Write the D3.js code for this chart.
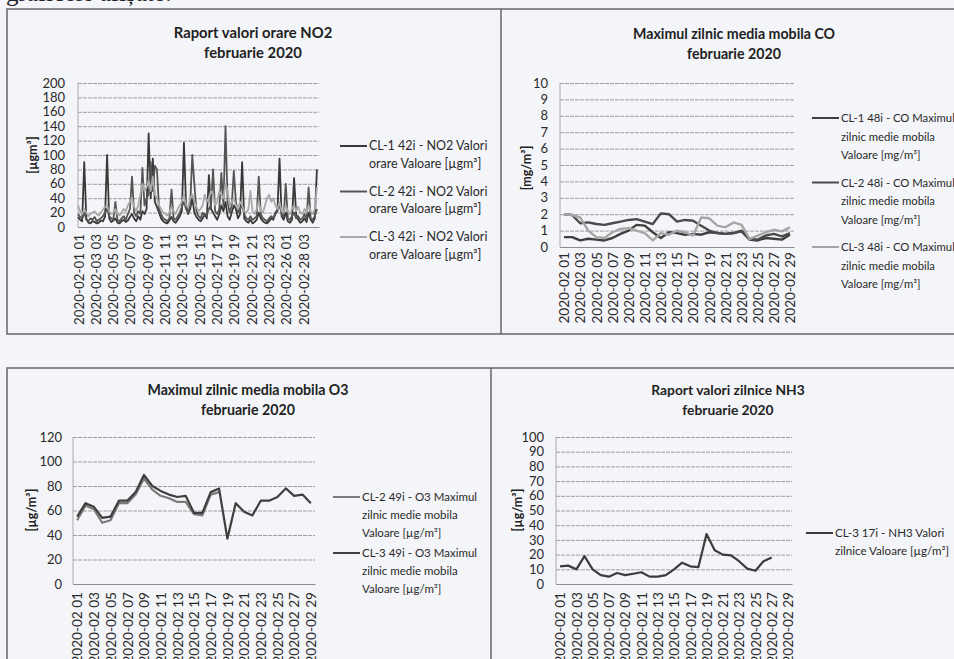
<!DOCTYPE html>
<html>
<head>
<meta charset="utf-8">
<script src="https://cdn.jsdelivr.net/npm/d3@7"></script>
<style>
  body { margin: 0; background: #f4f5f9; }
  svg { display: block; font-family: Lato, "Open Sans", sans-serif; }
</style>
</head>
<body>
<div id="chart"></div>
<script>
/* Rapoarte calitatea aerului - februarie 2020 */

const width = 954,
    height = 659;

// NO2 hourly chart: one value every 6 hours
const no2Ticks = ["2020-02-01 01", "2020-02-03 03", "2020-02-05 05", "2020-02-07 07", "2020-02-09 09",
    "2020-02-11 11", "2020-02-13 13", "2020-02-15 15", "2020-02-17 17", "2020-02-19 19",
    "2020-02-21 21", "2020-02-23 23", "2020-02-26 01", "2020-02-28 03"];
const no2TickHours = [1, 51, 101, 151, 201, 251, 301, 351, 401, 451, 501, 551, 601, 651];
const no2Cl1 = [14, 10, 8, 90, 12, 6, 5, 8, 7, 5, 6, 9, 8, 14, 100, 12, 7, 9, 12, 6,
    5, 8, 10, 7, 9, 14, 18, 12, 8, 15, 10, 22, 18, 25, 130, 40, 95, 35, 28, 20,
    12, 8, 6, 5, 9, 14, 8, 6, 10, 15, 22, 117, 30, 18, 25, 40, 20, 14, 10, 8,
    12, 18, 12, 72, 25, 20, 15, 10, 18, 30, 22, 35, 15, 10, 20, 30, 25, 12, 18, 90,
    12, 8, 6, 10, 5, 7, 10, 20, 12, 8, 6, 5, 8, 12, 10, 18, 22, 95, 15, 10,
    20, 8, 6, 10, 68, 18, 10, 6, 8, 12, 7, 20, 10, 6, 12, 80];
const no2Cl2 = [18, 14, 12, 20, 10, 8, 12, 10, 14, 8, 10, 12, 15, 20, 25, 15, 12, 10, 35, 10,
    8, 12, 15, 10, 18, 25, 70, 20, 15, 22, 18, 82, 30, 40, 45, 90, 50, 85, 80, 25,
    18, 12, 10, 8, 12, 52, 12, 10, 15, 20, 28, 35, 25, 20, 30, 100, 60, 22, 15, 12,
    20, 15, 18, 25, 30, 80, 22, 18, 25, 75, 30, 140, 35, 20, 30, 78, 35, 20, 25, 30,
    18, 12, 10, 15, 10, 12, 15, 70, 18, 12, 10, 8, 12, 15, 12, 20, 25, 30, 18, 15,
    60, 12, 10, 15, 20, 12, 15, 10, 12, 18, 10, 55, 12, 10, 15, 25];
const no2Cl3 = [30, 22, 18, 25, 20, 15, 18, 20, 22, 18, 16, 20, 24, 28, 30, 22, 18, 20, 25, 18,
    16, 20, 25, 22, 30, 35, 40, 28, 22, 30, 45, 60, 50, 55, 65, 50, 70, 45, 40, 30,
    25, 20, 18, 16, 20, 28, 22, 18, 25, 30, 35, 45, 30, 28, 40, 45, 35, 28, 22, 25,
    30, 45, 35, 40, 50, 45, 30, 35, 50, 45, 40, 60, 50, 30, 35, 40, 30, 25, 35, 30,
    22, 20, 25, 50, 22, 18, 25, 35, 22, 20, 30, 40, 45, 35, 40, 30, 25, 35, 22, 20,
    30, 22, 18, 25, 30, 22, 28, 20, 18, 25, 20, 30, 22, 18, 25, 55];

// daily charts: 29 days, a label every second day
const days = ["01", "02", "03", "04", "05", "06", "07", "08", "09", "10", "11", "12", "13", "14", "15",
    "16", "17", "18", "19", "20", "21", "22", "23", "24", "25", "26", "27", "28", "29"];
const dayTicks = ["01", "03", "05", "07", "09", "11", "13", "15", "17", "19", "21", "23", "25", "27", "29"];

const coCl1 = [0.6, 0.6, 0.4, 0.5, 0.45, 0.4, 0.55, 0.8, 1.0, 1.35, 1.3, 0.9, 0.55, 0.9, 0.85,
    0.75, 0.8, 0.75, 0.9, 0.85, 0.8, 0.85, 0.95, 0.45, 0.4, 0.55, 0.5, 0.45, 0.75];
const coCl2 = [2.0, 1.95, 1.45, 1.5, 1.4, 1.35, 1.45, 1.55, 1.65, 1.7, 1.55, 1.4, 2.05, 2.0, 1.55,
    1.65, 1.6, 1.3, 1.0, 0.85, 0.8, 0.85, 1.0, 0.5, 0.45, 0.7, 0.8, 0.65, 0.85];
const coCl3 = [2.0, 1.95, 1.8, 1.0, 0.6, 0.55, 0.9, 1.1, 1.15, 1.0, 0.85, 0.4, 0.85, 0.75, 1.0,
    0.9, 0.7, 1.8, 1.75, 1.3, 1.2, 1.5, 1.35, 0.5, 0.7, 0.9, 1.05, 0.95, 1.2];

const o3Cl2 = [52, 64, 61, 50, 52, 66, 66, 73, 86, 77, 72, 70, 67, 67, 57, 56, 73, 75,
    null, null, null, null, null, null, null, null, null, null, null];
const o3Cl3 = [55, 66, 63, 54, 55, 68, 68, 75, 89, 80, 76, 73, 71, 72, 58, 58, 75, 78,
    37, 66, 59, 56, 68, 68, 71, 78, 72, 73, 66];

const nh3Cl3 = [12, 12.5, 10, 19, 10, 6, 5, 7.5, 6, 7, 8, 5, 5, 6, 10, 14.5, 12, 11.5,
    34, 23, 20, 19.5, 15.5, 10.5, 9, 15.5, 18, null, null];

const svg = d3.select("#chart")
    .append("svg")
    .attr("width", width)
    .attr("height", height);

svg.append("rect")
    .attr("width", width)
    .attr("height", height)
    .attr("fill", "#f4f5f9");

// heading of the document, cut at the top of the scan
svg.append("text")
    .attr("x", 6)
    .attr("y", 1)
    .attr("font-family", "Liberation Serif, serif")
    .attr("font-size", 25)
    .attr("fill", "#222")
    .text("graficele afișate:");

// panel frames
const frame = svg.append("g")
    .attr("fill", "none")
    .attr("stroke", "#666")
    .attr("stroke-width", 1.5);
frame.append("path").attr("d", "M960,9H7V334H960");
frame.append("path").attr("d", "M501,9V334");
frame.append("path").attr("d", "M960,368H7V670");
frame.append("path").attr("d", "M491,368V670");

function drawPanel(p) {
    const g = svg.append("g");

    let y = d3.scaleLinear()
        .domain([0, p.yMax])
        .range([p.bottom, p.top]);

    // gridlines + y tick labels
    g.append("g")
        .attr("transform", `translate(${p.left},0)`)
        .call(d3.axisLeft(y).tickValues(d3.range(0, p.yMax + p.yStep / 2, p.yStep))
            .tickSize(-(p.right - p.left)).tickPadding(p.left - p.tickX))
        .call(a => a.select(".domain").remove())
        .call(a => a.selectAll("line").attr("stroke", "#9f9f9f").attr("stroke-dasharray", "4,1"))
        .call(a => a.selectAll("text")
            .attr("font-size", 13)
            .attr("font-family", "Lato, sans-serif")
            .attr("fill", "#2a2a2a"));

    g.append("line")          // vertical axis line
        .attr("x1", p.left).attr("x2", p.left)
        .attr("y1", p.top).attr("y2", p.bottom)
        .attr("stroke", "#aaa");

    // x axis with rotated labels
    g.append("g")
        .attr("transform", `translate(0,${p.bottom})`)
        .call(d3.axisBottom(p.x).tickValues(p.tickValues).tickSize(0).tickSizeOuter(0)
            .tickFormat((d, i) => p.tickLabels[i]))
        .call(a => a.select(".domain").attr("stroke", "#8c8c8c"))
        .call(a => a.selectAll("text")
            .attr("transform", "rotate(-90)")
            .attr("text-anchor", "end")
            .attr("x", -(p.xLabelTop - p.bottom))
            .attr("y", 0)
            .attr("dy", "0.35em")
            .attr("font-size", p.xFont)
            .attr("font-family", "Lato, sans-serif")
            .attr("fill", "#2a2a2a"));

    // series
    for (let s of p.series) {
        let line = d3.line()
            .defined(d => d != null)
            .x((d, i) => p.x(p.xs[i]))
            .y(d => y(d));
        g.append("path")
            .datum(s.values)
            .attr("d", line)
            .attr("fill", "none")
            .attr("stroke", s.color)
            .attr("stroke-width", p.lineWidth)
            .attr("stroke-linejoin", "round");
    }

    // title
    g.append("text")
        .attr("x", p.titleX)
        .attr("y", p.titleY)
        .attr("text-anchor", "middle")
        .attr("font-weight", "bold")
        .attr("font-size", p.titleFont)
        .attr("fill", "#222")
        .selectAll("tspan")
        .data(p.title)
        .join("tspan")
        .attr("x", p.titleX)
        .attr("dy", (d, i) => i ? 20 : 0)
        .text(d => d);

    // y axis title
    g.append("text")
        .attr("transform", `translate(${p.yLabelX},${p.yLabelY}) rotate(-90)`)
        .attr("text-anchor", "middle")
        .attr("dy", "0.35em")
        .attr("font-weight", "bold")
        .attr("font-size", 12.5)
        .attr("fill", "#222")
        .text(p.yLabel);

    // legend
    p.series.forEach((s, k) => {
        let ly = p.legendY + k * p.legendGap;
        g.append("line")
            .attr("x1", p.legendX).attr("x2", p.legendX + 27)
            .attr("y1", ly).attr("y2", ly)
            .attr("stroke", s.color)
            .attr("stroke-width", 2);
        g.append("text")
            .attr("x", p.legendX + 29)
            .attr("y", ly)
            .attr("font-size", p.legendFont)
            .attr("fill", "#2a2a2a")
            .selectAll("tspan")
            .data(s.label)
            .join("tspan")
            .attr("x", p.legendX + 29)
            .attr("dy", (d, i) => i ? p.legendLine : 4)
            .text(d => d);
    });
}

// --- NO2 hourly ---
let xHours = d3.scaleLinear().domain([0, 696]).range([78, 319]);
drawPanel({
    left: 78, right: 319, top: 83, bottom: 227,
    yMax: 200, yStep: 20, tickX: 65,
    x: xHours, xs: d3.range(0, 696, 6),
    tickValues: no2TickHours, tickLabels: no2Ticks, xLabelTop: 234, xFont: 13.4,
    lineWidth: 1.8,
    series: [
        { values: no2Cl1, color: "#383838", label: ["CL-1 42i - NO2 Valori", "orare Valoare [µgm³]"] },
        { values: no2Cl2, color: "#555555", label: ["CL-2 42i - NO2 Valori", "orare Valoare [µgm³]"] },
        { values: no2Cl3, color: "#a9a9a9", label: ["CL-3 42i - NO2 Valori", "orare Valoare [µgm³]"] }
    ],
    title: ["Raport valori orare NO2", "februarie 2020"], titleX: 253, titleY: 38, titleFont: 14.8,
    yLabel: "[µgm³]", yLabelX: 33, yLabelY: 155,
    legendX: 340, legendY: 146, legendGap: 45.5, legendLine: 17.5, legendFont: 12.5
});

// --- CO daily ---
let xCo = d3.scalePoint().domain(d3.range(days.length)).range([560, 794]).padding(0.5);
drawPanel({
    left: 560, right: 794, top: 83, bottom: 247,
    yMax: 10, yStep: 1, tickX: 548,
    x: xCo, xs: d3.range(days.length),
    tickValues: d3.range(0, 29, 2), tickLabels: dayTicks.map(d => "2020-02 " + d), xLabelTop: 252, xFont: 13.6,
    lineWidth: 2.4,
    series: [
        { values: coCl1, color: "#3f3f3f", label: ["CL-1 48i - CO Maximul", "zilnic medie mobila", "Valoare [mg/m³]"] },
        { values: coCl2, color: "#4a4a4a", label: ["CL-2 48i - CO Maximul", "zilnic medie mobila", "Valoare [mg/m³]"] },
        { values: coCl3, color: "#a6a6a6", label: ["CL-3 48i - CO Maximul", "zilnic medie mobila", "Valoare [mg/m³]"] }
    ],
    title: ["Maximul zilnic media mobila CO", "februarie 2020"], titleX: 734, titleY: 39, titleFont: 14.2,
    yLabel: "[mg/m³]", yLabelX: 527, yLabelY: 168,
    legendX: 812, legendY: 118, legendGap: 64.5, legendLine: 18.7, legendFont: 11.3
});

// --- O3 daily ---
let xO3 = d3.scalePoint().domain(d3.range(days.length)).range([73, 315]).padding(0.5);
drawPanel({
    left: 73, right: 315, top: 437, bottom: 584,
    yMax: 120, yStep: 20, tickX: 62,
    x: xO3, xs: d3.range(days.length),
    tickValues: d3.range(0, 29, 2), tickLabels: dayTicks.map(d => "2020-02 " + d), xLabelTop: 592, xFont: 13.6,
    lineWidth: 2.2,
    series: [
        { values: o3Cl2, color: "#7a7a7a", label: ["CL-2 49i - O3 Maximul", "zilnic medie mobila", "Valoare [µg/m³]"] },
        { values: o3Cl3, color: "#3f3f3f", label: ["CL-3 49i - O3 Maximul", "zilnic medie mobila", "Valoare [µg/m³]"] }
    ],
    title: ["Maximul zilnic media mobila O3", "februarie 2020"], titleX: 248, titleY: 395, titleFont: 14.2,
    yLabel: "[µg/m³]", yLabelX: 32, yLabelY: 510,
    legendX: 333, legendY: 497, legendGap: 56, legendLine: 18, legendFont: 11.5
});

// --- NH3 daily ---
let xNh3 = d3.scalePoint().domain(d3.range(days.length)).range([556, 792]).padding(0.5);
drawPanel({
    left: 556, right: 792, top: 437, bottom: 584,
    yMax: 100, yStep: 10, tickX: 544,
    x: xNh3, xs: d3.range(days.length),
    tickValues: d3.range(0, 29, 2), tickLabels: dayTicks.map(d => "2020-02 " + d), xLabelTop: 592, xFont: 13.6,
    lineWidth: 2.2,
    series: [
        { values: nh3Cl3, color: "#3c3c3c", label: ["CL-3 17i - NH3 Valori", "zilnice Valoare [µg/m³]"] }
    ],
    title: ["Raport valori zilnice NH3", "februarie 2020"], titleX: 728, titleY: 395, titleFont: 13.8,
    yLabel: "[µg/m³]", yLabelX: 518, yLabelY: 510,
    legendX: 806, legendY: 533, legendGap: 40, legendLine: 17.5, legendFont: 11.6
});
</script>
</body>
</html>
